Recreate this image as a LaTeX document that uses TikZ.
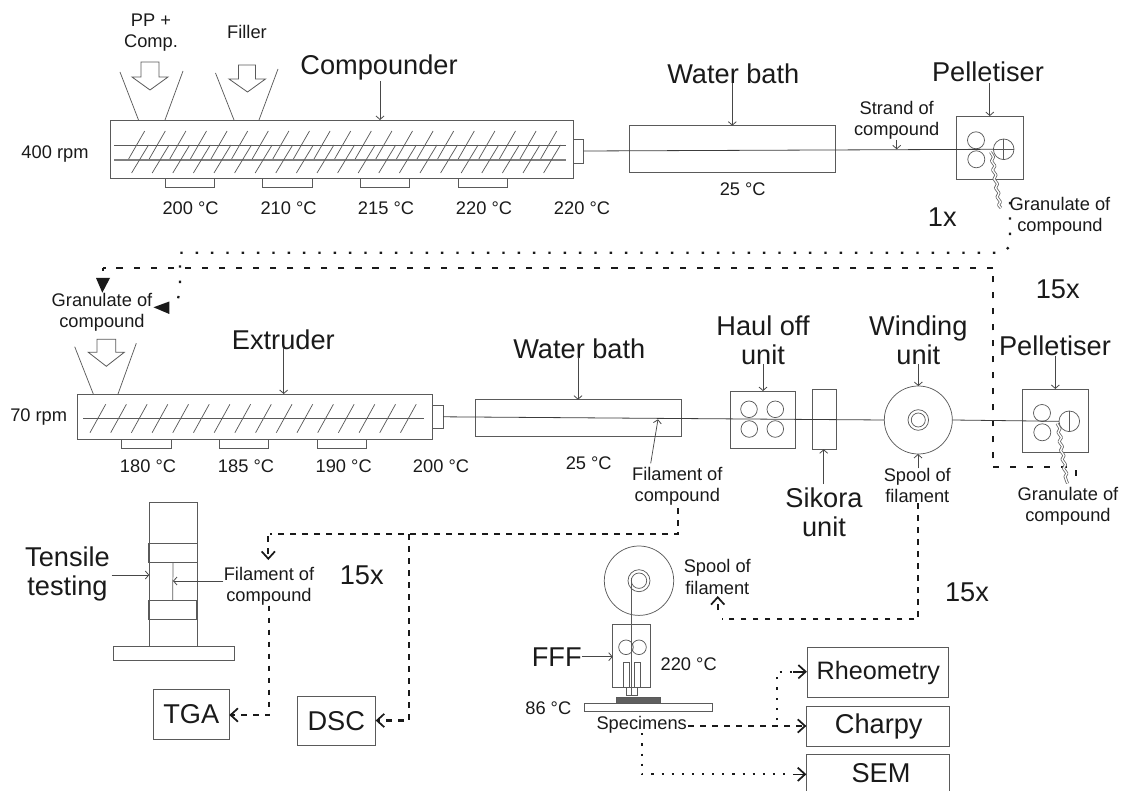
\documentclass[tikz,border=0pt]{standalone}
\usepackage{fontspec}
\setmainfont{Liberation Sans}
\usetikzlibrary{arrows.meta}
\definecolor{ink}{HTML}{1A1A1A}
\definecolor{edge}{HTML}{5A5A5A}
\tikzset{
  bx/.style 2 args={draw=edge,line width=.6pt,fill=none,inner sep=0pt,outer sep=0pt,minimum width=#1*.75pt,minimum height=#2*.75pt},
  rnd/.style={circle,draw=edge,line width=.55pt,inner sep=0pt,outer sep=0pt,minimum size=#1*.75pt},
  sm/.style={font=\fontsize{13.7pt}{15.8pt}\selectfont,text=ink,inner sep=0pt,align=center},
  big/.style={font=\fontsize{20.4pt}{21.8pt}\selectfont,text=ink,inner sep=0pt,align=center},
  thin/.style={draw=edge,line width=.55pt},
  ln/.style={draw=ink!85,line width=.6pt},
  ptr/.style={draw=ink!80,line width=.55pt,-{Straight Barb[length=2.6pt,width=6pt,line width=.6pt]}},
  hop/.style={draw=edge,line width=.55pt},
  inlet/.style={draw=edge,line width=.6pt,fill=white,line join=miter},
  dotA/.style={draw=ink,line width=1.7pt,dash pattern=on 1.8pt off 9.7pt},
  dashA/.style={draw=ink,line width=1.7pt,dash pattern=on 4.6pt off 8.2pt},
  dashB/.style={draw=ink,line width=1.7pt,dash pattern=on 4.2pt off 4.8pt},
  dotB/.style={draw=ink,line width=1.6pt,dash pattern=on 1.6pt off 6pt},
  barb/.style={-{Straight Barb[length=5.5pt,width=10pt,line width=1.3pt]}},
  gran/.style={draw=gray!80!black,line width=.6pt,double=white,double distance=1pt,line join=round}
}
\begin{document}
\begin{tikzpicture}[x=.75pt,y=-.75pt]
\useasboundingbox (0,0) rectangle (1121,791);
\clip (0,0) rectangle (1121,791);
% ---------- compounder line
\node[bx={463}{58}] (comp) at (341.5,149) {};
\node[sm] (ppcomp) at (151,33) {PP +\\Comp.};
\node[sm] (filler) at (247,32) {Filler};
\node[big] (compT) at (379,67) {Compounder};
\node[sm] (rpmA) at (55,154) {400 rpm};
\draw[hop] (120,72) -- (138.5,120) (183,71) -- (165,120);
\draw[hop] (215.5,73) -- (234,120) (278,69) -- (259,120);
\draw[inlet] (141,62) -- (159,62) -- (159,77) -- (168,77) -- (150,90) -- (132,77) -- (141,77) -- cycle;
\draw[inlet] (238.5,65) -- (255.5,65) -- (255.5,79) -- (265.5,79) -- (247.5,92) -- (229,79) -- (238.5,79) -- cycle;
\coordinate (compP) at (380,81);
\draw[ptr] (compP) -- (comp.north -| compP);
\draw[thin] (114,145) -- (565.5,145);
\draw[draw=gray,line width=1pt] (114,160) -- (565.5,160);
\foreach \i in {0,...,20}{
  \draw[thin] ({144.7+\i*20.6},131) -- ({128.6+\i*20.6},159);
  \draw[thin] ({148.5+\i*20.6},145) -- ({131.6+\i*20.6},173);
}
\foreach \x/\t in {190/200,287.5/210,385/215,483/220}{
  \node[bx={49.5}{9}] (hA\t) at (\x,182.5) {};
}
\node[sm] (tA1) at (190.6,208) {200 °C};
\node[sm] (tA2) at (288.6,208) {210 °C};
\node[sm] (tA3) at (386,208) {215 °C};
\node[sm] (tA4) at (484,208) {220 °C};
\node[sm] (tA5) at (582,208) {220 °C};
\node[bx={10.6}{24}] (nozA) at (578.3,151) {};
% water bath 1
\node[bx={206}{46.3}] (wbA) at (732.3,148.8) {};
\node[big] (wbAT) at (733.3,74) {Water bath};
\node[sm] (wbAt) at (742.7,189) {25 °C};
\coordinate (wbAP) at (732.3,83);
\draw[ptr] (wbAP) -- (wbA.north -| wbAP);
% pelletiser 1
\node[bx={66.3}{63.3}] (pelA) at (989.8,147.7) {};
\node[big] (pelAT) at (988,72) {Pelletiser};
\coordinate (pelAP) at (989.8,83);
\draw[ptr] (pelAP) -- (pelA.north -| pelAP);
\node[rnd=17] (rAa) at (976,140.3) {};
\node[rnd=17] (rAb) at (976.3,159.3) {};
\node[rnd=20.6] (cutA) at (1003.7,149.3) {};
\draw[thin] (cutA.north) -- (cutA.south) (cutA.west) -- (cutA.east);
\draw[ln] (nozA.east) -- (cutA.west);
\node[sm] (strand) at (896.7,120) {Strand of\\compound};
\coordinate (strP) at (896.7,140);
\coordinate (strQ) at (896.7,149.3);
\draw[ptr] (strP) -- (strQ);
\draw[gran] (990.5,152) -- (993.5,157) -- (991.5,161) -- (995,166) -- (992.5,170) -- (996,175) -- (994,179) -- (997.5,184) -- (995.5,188) -- (999,193) -- (997,197) -- (1000.5,202) -- (998.5,205) -- (1001,208);
\node[sm] (granA) at (1060,216.7) {Granulate of\\compound};
\node[big] (oneX) at (942.3,216.7) {1x};
\node[big] (fifA) at (1057.7,289.3) {15x};
% dotted return 1x
\node[sm] (granB) at (102,312) {Granulate of\\compound};
\coordinate (dA) at (1010,202);
\coordinate (dB) at (1010,246);
\coordinate (dC) at (1003,252.7);
\coordinate (dD) at (180,252.7);
\coordinate (dE) at (180,285);
\coordinate (dF) at (177,307.3);
\coordinate (dG) at (153.5,307.3);
\draw[dotA] (dA) -- (dB) -- (dC) -- (dD) -- (dE) -- (dF);
\path[fill=ink] (dG) -- (169.3,301.5) -- (169.3,314) -- cycle;
% dashed return 15x
\coordinate (eA) at (1076,470);
\coordinate (eB) at (1067,467.3);
\coordinate (eC) at (993,467.3);
\coordinate (eD) at (993,268.3);
\coordinate (eE) at (103,268.3);
\coordinate (eF) at (102.3,292.7);
\draw[dashA] (eB) -- (eC);
\draw[dashA] (eA) -- ++(0,6);
\draw[draw=ink,line width=1.7pt,dash pattern=on 5pt off 7pt] (eC) ++(0,-9) -- (eD);
\draw[dashA] (eD) -- (eE);
\draw[dashA] (eE) -- ++(0,3);
\path[fill=ink] (eF) -- (96,278) -- (110,278) -- cycle;
% ---------- extruder line
\node[bx={355}{45}] (ext) at (254.8,416.5) {};
\node[big] (extT) at (283.3,340) {Extruder};
\node[sm] (rpmB) at (38.7,417) {70 rpm};
\draw[hop] (74.7,346.7) -- (93.3,394) (136.3,343.3) -- (118,394);
\draw[inlet] (97,339.3) -- (115.7,339.3) -- (115.7,352.3) -- (124.3,352.3) -- (106.3,366.3) -- (88.3,352.3) -- (97,352.3) -- cycle;
\coordinate (extP) at (283.7,348);
\draw[ptr] (extP) -- (ext.north -| extP);
\draw[thin] (83.3,418.3) -- (424,418.3);
\foreach \i in {0,...,15}{
  \draw[thin] ({105.7+\i*20.7},404.3) -- ({90+\i*20.7},432.7);
}
\node[bx={49.7}{9}] (hB1) at (146.2,443.8) {};
\node[bx={49}{9}] (hB2) at (243.8,443.8) {};
\node[bx={49.4}{9}] (hB3) at (342,443.8) {};
\node[sm] (tB1) at (148,466) {180 °C};
\node[sm] (tB2) at (246,466) {185 °C};
\node[sm] (tB3) at (343.7,466) {190 °C};
\node[sm] (tB4) at (441,466) {200 °C};
\node[bx={10.7}{23}] (nozB) at (437.7,416.8) {};
% water bath 2
\node[bx={206}{36.6}] (wbB) at (578,418) {};
\node[big] (wbBT) at (579.3,349) {Water bath};
\node[sm] (wbBt) at (588.7,463.3) {25 °C};
\coordinate (wbBP) at (578,356.7);
\draw[ptr] (wbBP) -- (wbB.north -| wbBP);
\node[sm] (filA) at (677.3,486.5) {Filament of\\compound};
\coordinate (filP) at (650.7,463.3);
\coordinate (filQ) at (658,419.3);
\draw[ptr] (filP) -- (filQ);
% haul off
\node[bx={65.4}{57.7}] (haul) at (763,419.9) {};
\node[big] (haulT) at (763,340.5) {Haul off\\unit};
\coordinate (haulP) at (763,364);
\draw[ptr] (haulP) -- (haul.north -| haulP);
\node[rnd=16.6] (hr1) at (749,409.3) {};
\node[rnd=16.6] (hr2) at (749.3,429) {};
\node[rnd=16.6] (hr3) at (775.3,409.3) {};
\node[rnd=16.6] (hr4) at (775.3,429) {};
% sikora
\node[bx={24}{60}] (sik) at (824.7,419.3) {};
\node[big] (sikT) at (824,512) {Sikora\\unit};
\coordinate (sikP) at (823.7,484);
\draw[ptr] (sikP) -- (sik.south -| sikP);
% winding
\node[rnd=68] (wind) at (918.3,420) {};
\node[rnd=20.6] (windA) at (918.3,420) {};
\node[rnd=14] (windB) at (918.3,420) {};
\node[big] (windT) at (918.3,340.5) {Winding\\unit};
\coordinate (windP) at (918.3,364);
\draw[ptr] (windP) -- (wind.north -| windP);
\node[sm] (spoolA) at (917.3,485.5) {Spool of\\filament};
\coordinate (spP) at (918,468.3);
\draw[ptr] (spP) -- (wind.south -| spP);
\draw[ln] (nozB.east) -- (wind.west);
% pelletiser 2
\node[bx={66.4}{63.7}] (pelB) at (1055.5,420.8) {};
\node[big] (pelBT) at (1055,346) {Pelletiser};
\coordinate (pelBP) at (1055.3,356);
\draw[ptr] (pelBP) -- (pelB.north -| pelBP);
\node[rnd=17] (rBa) at (1042,413) {};
\node[rnd=17] (rBb) at (1042.3,432.3) {};
\node[rnd=20.6] (cutB) at (1069.3,421.3) {};
\draw[thin] (cutB.north) -- (cutB.south);
\draw[ln] (wind.east) -- (cutB.west);
\begin{scope}[shift={(66.5,271.5)}]
\draw[gran] (990.5,152) -- (993.5,157) -- (991.5,161) -- (995,166) -- (992.5,170) -- (996,175) -- (994,179) -- (997.5,184) -- (995.5,188) -- (999,193) -- (997,197) -- (1000.5,202) -- (998.5,205) -- (1001,212);
\end{scope}
\node[sm] (granC) at (1068,506) {Granulate of\\compound};
% ---------- tensile
\node[bx={48}{143.3}] (frame) at (173.3,574.4) {};
\node[bx={49}{19}] (gripU) at (173,552.8) {};
\node[bx={48}{18.6}] (gripL) at (172.7,610) {};
\node[bx={120.7}{14}] (base) at (173.6,653.7) {};
\draw[thin] (gripU.south) -- (gripL.north);
\node[big] (tens) at (67.5,574) {Tensile\\testing};
\coordinate (tenP) at (111.7,575);
\draw[ptr] (tenP) -- (tenP -| frame.west);
\node[sm] (filB) at (269,586) {Filament of\\compound};
\coordinate (fibP) at (223.3,581);
\draw[ptr] (fibP) -- (fibP -| gripU.south);
\node[big] (fifB) at (361.7,575) {15x};
\node[bx={76}{49.7}] (tga) at (191.3,714.2) {};
\node[big] at (tga.center) (tgaT) {TGA};
\node[bx={78.7}{49.7}] (dsc) at (336.3,720.8) {};
\node[big] at (dsc.center) (dscT) {DSC};
% dashed from filament
\coordinate (fA) at (678.3,508.3);
\coordinate (fB) at (678.3,534);
\coordinate (fC) at (409.3,534);
\coordinate (fD) at (270,534);
\coordinate (fE) at (268.3,536);
\coordinate (fF) at (268.3,560);
\coordinate (fG) at (409.3,720.5);
\coordinate (fH) at (269.3,605.7);
\coordinate (fI) at (269.3,715);
\draw[dashB] (fA) -- (fB) -- (fD);
\draw[dashB,barb] (fE) -- (fF);
\draw[dashB,barb] (fC) -- (fG) -- (dsc.east |- fG);
\draw[dashB,barb] (fH) -- (fI) -- (tga.east |- fI);
% ---------- FFF
\node[rnd=69.4] (spool) at (639,580.7) {};
\node[rnd=22] (spoolI) at (639,580.7) {};
\node[rnd=15.4] (spoolJ) at (639,580.7) {};
\node[sm] (spoolB) at (717.3,577) {Spool of\\filament};
\node[bx={37.6}{63}] (fff) at (631.5,655.8) {};
\node[big] (fffT) at (556.7,656.7) {FFF};
\coordinate (fffP) at (581.7,656.7);
\draw[ptr] (fffP) -- (fffP -| fff.west);
\node[rnd=14.6] (fr1) at (626,647.3) {};
\node[rnd=14.6] (fr2) at (639,647.3) {};
\node[bx={5.6}{25}] (fh1) at (626.5,674.8) {};
\node[bx={5.3}{25}] (fh2) at (637.3,674.8) {};
\node[bx={11.4}{8.4}] (fnz) at (632,691.5) {};
\coordinate (filTop) at (631.7,578);
\draw[thin] (filTop) -- (fnz.south -| filTop);
\node[draw=edge,fill=ink!70,line width=.4pt,inner sep=0,minimum width=44.7*.75pt,minimum height=6*.75pt] (spec) at (638.3,700.3) {};
\node[bx={128.7}{8.4}] (bed) at (648.3,707.5) {};
\node[sm] (t220) at (688.7,664.7) {220 °C};
\node[sm] (t86) at (548.3,708.3) {86 °C};
\node[sm] (specT) at (641.7,725) {Specimens};
% dashed from spool of filament
\coordinate (gA) at (918,503);
\coordinate (gB) at (918,619.3);
\coordinate (gC) at (722,619.3);
\coordinate (gE) at (717.7,610);
\coordinate (gD) at (717.7,596);
\draw[dashB] (gA) -- (gB) -- (gC);
\draw[dashB,barb] (gE) -- (gD);
% result boxes
\node[bx={141.7}{49.7}] (rheo) at (877.8,672.2) {};
\node[font=\fontsize{18.9pt}{20pt}\selectfont,text=ink,inner sep=0pt] at (878.3,673.3) (rheoT) {Rheometry};
\node[bx={142.7}{40.4}] (charpy) at (877.7,726.5) {};
\node[big] at (878.7,726) (charpyT) {Charpy};
\node[bx={142.7}{60}] (sem) at (877.7,784.3) {};
\node[big] at (881,773.3) (semT) {SEM};
\coordinate (hA) at (688.3,726);
\coordinate (hB) at (777.3,720);
\coordinate (hC) at (777.3,671.7);
\coordinate (hD) at (641.7,733.3);
\coordinate (hE) at (641.7,774.3);
\coordinate (hF) at (793,0);
\draw[dashB,barb] (hA) -- (charpy.west |- hA);
\draw[dotB] (hB) -- (hC) -- (hC -| hF);
\draw[barb,draw=ink,line width=1.2pt] (hC -| hF) -- (rheo.west |- hC);
\draw[dotB] (hD) -- (hE) -- (hE -| hF);
\draw[barb,draw=ink,line width=1.2pt] (hE -| hF) -- (sem.west |- hE);
\node[big] (fifC) at (967,592) {15x};
\end{tikzpicture}
\end{document}
